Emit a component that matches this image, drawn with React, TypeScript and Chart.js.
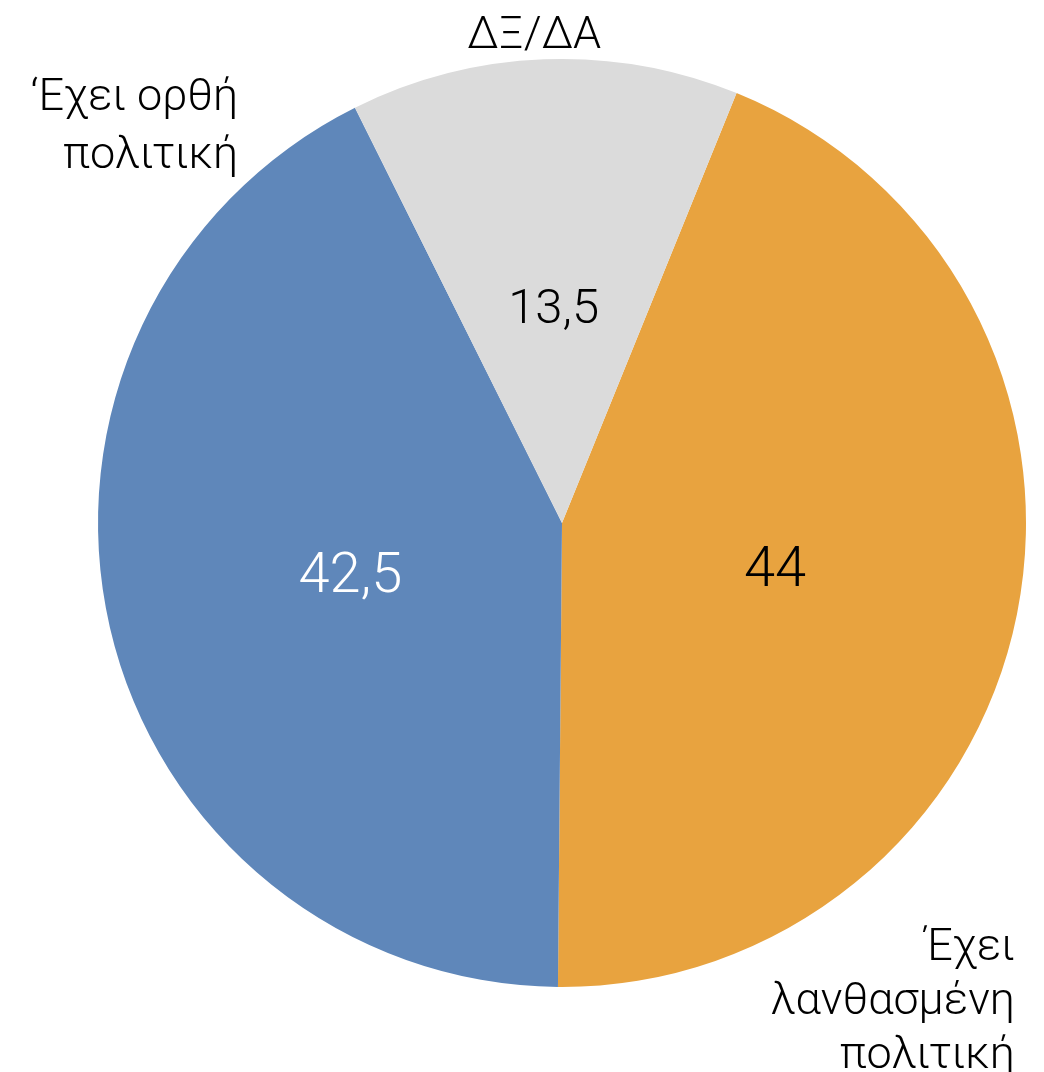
import React, { useEffect, useRef } from "react";
import { Chart, registerables } from "chart.js";

Chart.register(...registerables);

const categories = ["Έχει λανθασμένη πολιτική", "‘Εχει ορθή πολιτική", "ΔΞ/ΔΑ"];
const values = [44, 42.5, 13.5];
const valueLabels = ["44", "42,5", "13,5"];
const outerLabelLines = [["Έχει", "λανθασμένη", "πολιτική"], ["‘Εχει ορθή", "πολιτική"], ["ΔΞ/ΔΑ"]];
const colors = ["#E8A33F", "#5F87BA", "#DBDBDB"];
const valueColors = ["#000000", "#FFFFFF", "#000000"];

const FONT = "Roboto, 'Liberation Sans', sans-serif";

const labelPlugin = {
  id: "pieLabels",
  afterDraw(chart: any) {
    const ctx = chart.ctx as CanvasRenderingContext2D;
    const meta = chart.getDatasetMeta(0);
    const valueSizes = [56, 56, 49];
    // outer label placement relative to centre, in units of radius
    const outer = [
      { align: "right", fx: 0.976, fy: 0.942, lh: 54 },
      { align: "right", fx: -0.698, fy: -0.89, lh: 58 },
      { align: "center", fx: -0.06, fy: -1.024, lh: 54 },
    ];
    ctx.save();
    meta.data.forEach((arc: any, i: number) => {
      const p = arc.getProps(["x", "y", "startAngle", "endAngle", "outerRadius"], true);
      const mid = (p.startAngle + p.endAngle) / 2;
      const rr = p.outerRadius * 0.468;
      const lx = p.x + Math.cos(mid) * rr;
      const ly = p.y + Math.sin(mid) * rr;
      ctx.font = `300 ${valueSizes[i]}px ${FONT}`;
      ctx.fillStyle = valueColors[i];
      ctx.textAlign = "center";
      ctx.textBaseline = "alphabetic";
      const m = ctx.measureText(valueLabels[i]);
      ctx.fillText(valueLabels[i], lx, ly + m.actualBoundingBoxAscent / 2);

      const o = outer[i];
      ctx.font = `300 45px ${FONT}`;
      ctx.fillStyle = "#000000";
      ctx.textAlign = o.align as CanvasTextAlign;
      const bx = p.x + o.fx * p.outerRadius;
      const by = p.y + o.fy * p.outerRadius;
      outerLabelLines[i].forEach((line, j) => {
        ctx.fillText(line, bx, by + j * o.lh);
      });
    });
    ctx.restore();
  },
};

export default function App() {
  const ref = useRef<HTMLCanvasElement | null>(null);
  useEffect(() => {
    document.body.style.margin = "0";
    const chart = new Chart(ref.current as HTMLCanvasElement, {
      type: "pie",
      data: {
        labels: categories,
        datasets: [
          {
            data: values,
            backgroundColor: colors,
            borderWidth: 0,
            hoverOffset: 0,
          },
        ],
      },
      options: {
        responsive: false,
        animation: false,
        rotation: 22.1,
        layout: { padding: { left: 98, top: 59, right: 18, bottom: 85 } },
        plugins: {
          legend: { display: false },
          tooltip: { enabled: false },
        },
      },
      plugins: [labelPlugin],
    });
    return () => chart.destroy();
  }, []);
  return (
    <div style={{ width: 1044, height: 1072, background: "#fff" }}>
      <canvas ref={ref} width={1044} height={1072} style={{ display: "block" }} />
    </div>
  );
}
